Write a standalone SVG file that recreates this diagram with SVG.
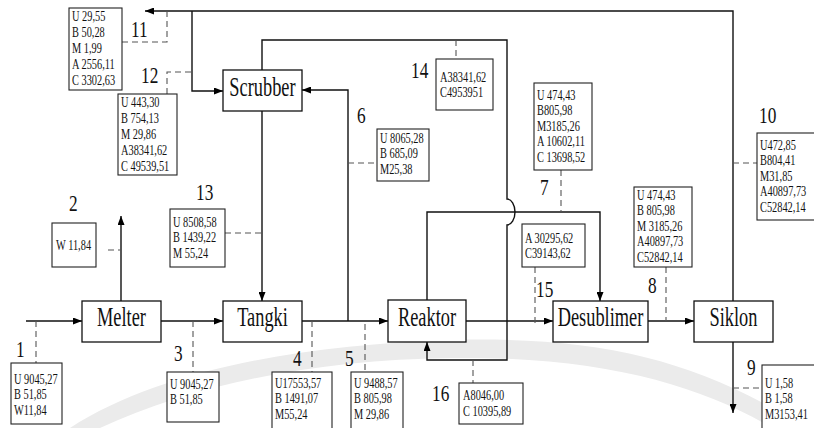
<svg xmlns="http://www.w3.org/2000/svg" width="814" height="428" viewBox="0 0 814 428">
<defs>
<marker id="ah" markerWidth="9" markerHeight="7" refX="9" refY="3.5" orient="auto" markerUnits="userSpaceOnUse"><path d="M0,0 L9,3.5 L0,7 Z" fill="#000"/></marker>
<style>
.bg{fill:#ffffff}
.sw{fill:#ebebeb;stroke:none}
.node rect{fill:#fff;stroke:#111;stroke-width:1.3}
.nl{font-family:"Liberation Serif","Times New Roman",serif;font-size:27px;fill:#111;text-anchor:middle}
.dat rect{fill:#fff;stroke:#222;stroke-width:1.1}
.dt{font-family:"Liberation Serif","Times New Roman",serif;font-size:14px;fill:#111}
.num{font-family:"Liberation Serif","Times New Roman",serif;font-size:24px;fill:#111}
.ln{fill:none;stroke:#111;stroke-width:1.4}
.ds{fill:none;stroke:#555;stroke-width:1.1;stroke-dasharray:6 4}
</style>
</defs>
<rect class="bg" x="0" y="0" width="814" height="428"/>
<path class="sw" d="M70,428 C160,370 300,345 450,340 C600,336 700,360 805,428 L772,428 C700,385 600,356 450,358 C320,360 200,382 100,428 Z"/>

<g id="connectors">
<path class="ln" d="M26,321 H82" marker-end="url(#ah)"/>
<path class="ln" d="M161,321 H223" marker-end="url(#ah)"/>
<path class="ln" d="M302,321 H388" marker-end="url(#ah)"/>
<path class="ln" d="M466,321 H553" marker-end="url(#ah)"/>
<path class="ln" d="M648,321 H694" marker-end="url(#ah)"/>
<path class="ln" d="M121,301 V216" marker-end="url(#ah)"/>
<path class="ln" d="M733,301 V11 H145" marker-end="url(#ah)"/>
<path class="ln" d="M192,11 V91 H223" marker-end="url(#ah)"/>
<path class="ln" d="M262,111 V301" marker-end="url(#ah)"/>
<path class="ln" d="M348,321 V90 H302" marker-end="url(#ah)"/>
<path class="ln" d="M262,70 V40 H507 V199 A8,13 0 0 1 507,225 V360 H427 V342" marker-end="url(#ah)"/>
<path class="ln" d="M427,300 V212 H600 V301" marker-end="url(#ah)"/>
<path class="ln" d="M733,342 V413" marker-end="url(#ah)"/>
<path class="ds" d="M36,321 V363"/>
<path class="ds" d="M193,321 V372"/>
<path class="ds" d="M312,321 V372"/>
<path class="ds" d="M365,324 V372"/>
<path class="ds" d="M108,250 H121"/>
<path class="ds" d="M225,233 H262"/>
<path class="ds" d="M122,42 H167 V11"/>
<path class="ds" d="M167,94 V72 H192"/>
<path class="ds" d="M456,40 V59"/>
<path class="ds" d="M348,163 H377"/>
<path class="ds" d="M561,170 V212"/>
<path class="ds" d="M535,267 V325"/>
<path class="ds" d="M666,267 V321"/>
<path class="ds" d="M733,163 H757"/>
<path class="ds" d="M733,388 H762"/>
<path class="ds" d="M473,360 V383"/>
</g>

<g id="melter" class="node"><rect x="82" y="301" width="79" height="41"/><text class="nl" transform="translate(121.5,326) scale(0.68,1)">Melter</text></g>
<g id="tangki" class="node"><rect x="223" y="301" width="79" height="41"/><text class="nl" transform="translate(262.5,326) scale(0.68,1)">Tangki</text></g>
<g id="reaktor" class="node"><rect x="388" y="300" width="78" height="42"/><text class="nl" transform="translate(427,326) scale(0.68,1)">Reaktor</text></g>
<g id="desublimer" class="node"><rect x="553" y="301" width="95" height="41"/><text class="nl" transform="translate(600.5,326) scale(0.68,1)">Desublimer</text></g>
<g id="siklon" class="node"><rect x="694" y="301" width="79" height="41"/><text class="nl" transform="translate(733.5,326) scale(0.68,1)">Siklon</text></g>
<g id="scrubber" class="node"><rect x="223" y="70" width="79" height="41"/><text class="nl" transform="translate(262.5,96) scale(0.68,1)">Scrubber</text></g>

<g id="s1" class="dat"><rect x="11" y="363" width="51" height="61"/><text class="dt" transform="translate(14,0) scale(0.74,1)"><tspan x="0" y="384">U 9045,27</tspan><tspan x="0" y="399.5">B 51,85</tspan><tspan x="0" y="415">W11,84</tspan></text><text class="num" transform="translate(16,357) scale(0.72,1)">1</text></g>
<g id="s2" class="dat"><rect x="52" y="223" width="44" height="44"/><text class="dt" transform="translate(56,250) scale(0.74,1)">W 11,84</text><text class="num" transform="translate(69,211) scale(0.72,1)">2</text></g>
<g id="s3" class="dat"><rect x="167" y="372" width="52" height="50"/><text class="dt" transform="translate(170,0) scale(0.74,1)"><tspan x="0" y="389">U 9045,27</tspan><tspan x="0" y="404.5">B 51,85</tspan></text><text class="num" transform="translate(174,361) scale(0.72,1)">3</text></g>
<g id="s4" class="dat"><rect x="272" y="372" width="60" height="60"/><text class="dt" transform="translate(275,0) scale(0.74,1)"><tspan x="0" y="388">U17553,57</tspan><tspan x="0" y="403.5">B 1491,07</tspan><tspan x="0" y="419">M55,24</tspan></text><text class="num" transform="translate(293,366) scale(0.72,1)">4</text></g>
<g id="s5" class="dat"><rect x="351" y="372" width="52" height="60"/><text class="dt" transform="translate(354,0) scale(0.74,1)"><tspan x="0" y="388">U 9488,57</tspan><tspan x="0" y="403.5">B 805,98</tspan><tspan x="0" y="419">M 29,86</tspan></text><text class="num" transform="translate(345,366) scale(0.72,1)">5</text></g>
<g id="s6" class="dat"><rect x="377" y="129" width="52" height="52"/><text class="dt" transform="translate(380,0) scale(0.74,1)"><tspan x="0" y="143">U 8065,28</tspan><tspan x="0" y="158.5">B 685,09</tspan><tspan x="0" y="174">M25,38</tspan></text><text class="num" transform="translate(357,123) scale(0.72,1)">6</text></g>
<g id="s7" class="dat"><rect x="534" y="83" width="58" height="87"/><text class="dt" transform="translate(537,0) scale(0.74,1)"><tspan x="0" y="100">U 474,43</tspan><tspan x="0" y="115.5">B805,98</tspan><tspan x="0" y="131">M3185,26</tspan><tspan x="0" y="146.5">A 10602,11</tspan><tspan x="0" y="162">C 13698,52</tspan></text><text class="num" transform="translate(540,195) scale(0.72,1)">7</text></g>
<g id="s8" class="dat"><rect x="634" y="187" width="58" height="80"/><text class="dt" transform="translate(637,0) scale(0.74,1)"><tspan x="0" y="200">U 474,43</tspan><tspan x="0" y="215.5">B 805,98</tspan><tspan x="0" y="231">M 3185,26</tspan><tspan x="0" y="246.5">A40897,73</tspan><tspan x="0" y="262">C52842,14</tspan></text><text class="num" transform="translate(648,293) scale(0.72,1)">8</text></g>
<g id="s9" class="dat"><rect x="762" y="365" width="60" height="70"/><text class="dt" transform="translate(765,0) scale(0.74,1)"><tspan x="0" y="388">U 1,58</tspan><tspan x="0" y="403.5">B 1,58</tspan><tspan x="0" y="419">M3153,41</tspan></text><text class="num" transform="translate(747,375) scale(0.72,1)">9</text></g>
<g id="s10" class="dat"><rect x="757" y="133" width="65" height="87"/><text class="dt" transform="translate(760,0) scale(0.74,1)"><tspan x="0" y="150">U472,85</tspan><tspan x="0" y="165.5">B804,41</tspan><tspan x="0" y="181">M31,85</tspan><tspan x="0" y="196.5">A40897,73</tspan><tspan x="0" y="212">C52842,14</tspan></text><text class="num" transform="translate(759,123) scale(0.72,1)">10</text></g>
<g id="s11" class="dat"><rect x="69" y="8" width="53" height="82"/><text class="dt" transform="translate(72,0) scale(0.74,1)"><tspan x="0" y="21.5">U 29,55</tspan><tspan x="0" y="37.3">B 50,28</tspan><tspan x="0" y="53">M 1,99</tspan><tspan x="0" y="69">A 2556,11</tspan><tspan x="0" y="84.7">C 3302,63</tspan></text><text class="num" transform="translate(131,37) scale(0.72,1)">11</text></g>
<g id="s12" class="dat"><rect x="118" y="94" width="59" height="81"/><text class="dt" transform="translate(121,0) scale(0.74,1)"><tspan x="0" y="107.3">U 443,30</tspan><tspan x="0" y="123.3">B 754,13</tspan><tspan x="0" y="139.3">M 29,86</tspan><tspan x="0" y="155">A38341,62</tspan><tspan x="0" y="170.7">C 49539,51</tspan></text><text class="num" transform="translate(141,83) scale(0.72,1)">12</text></g>
<g id="s13" class="dat"><rect x="170" y="209" width="55" height="58"/><text class="dt" transform="translate(173,0) scale(0.74,1)"><tspan x="0" y="227">U 8508,58</tspan><tspan x="0" y="242.5">B 1439,22</tspan><tspan x="0" y="258">M 55,24</tspan></text><text class="num" transform="translate(196,200) scale(0.72,1)">13</text></g>
<g id="s14" class="dat"><rect x="436" y="59" width="57" height="51"/><text class="dt" transform="translate(440,0) scale(0.74,1)"><tspan x="0" y="82">A38341,62</tspan><tspan x="0" y="97.5">C4953951</tspan></text><text class="num" transform="translate(411,78) scale(0.72,1)">14</text></g>
<g id="s15" class="dat"><rect x="522" y="224" width="63" height="43"/><text class="dt" transform="translate(525,0) scale(0.74,1)"><tspan x="0" y="243">A 30295,62</tspan><tspan x="0" y="258.5">C39143,62</tspan></text><text class="num" transform="translate(536,297) scale(0.72,1)">15</text></g>
<g id="s16" class="dat"><rect x="459" y="383" width="64" height="41"/><text class="dt" transform="translate(463,0) scale(0.74,1)"><tspan x="0" y="400">A8046,00</tspan><tspan x="0" y="416">C 10395,89</tspan></text><text class="num" transform="translate(432,401) scale(0.72,1)">16</text></g>
</svg>
